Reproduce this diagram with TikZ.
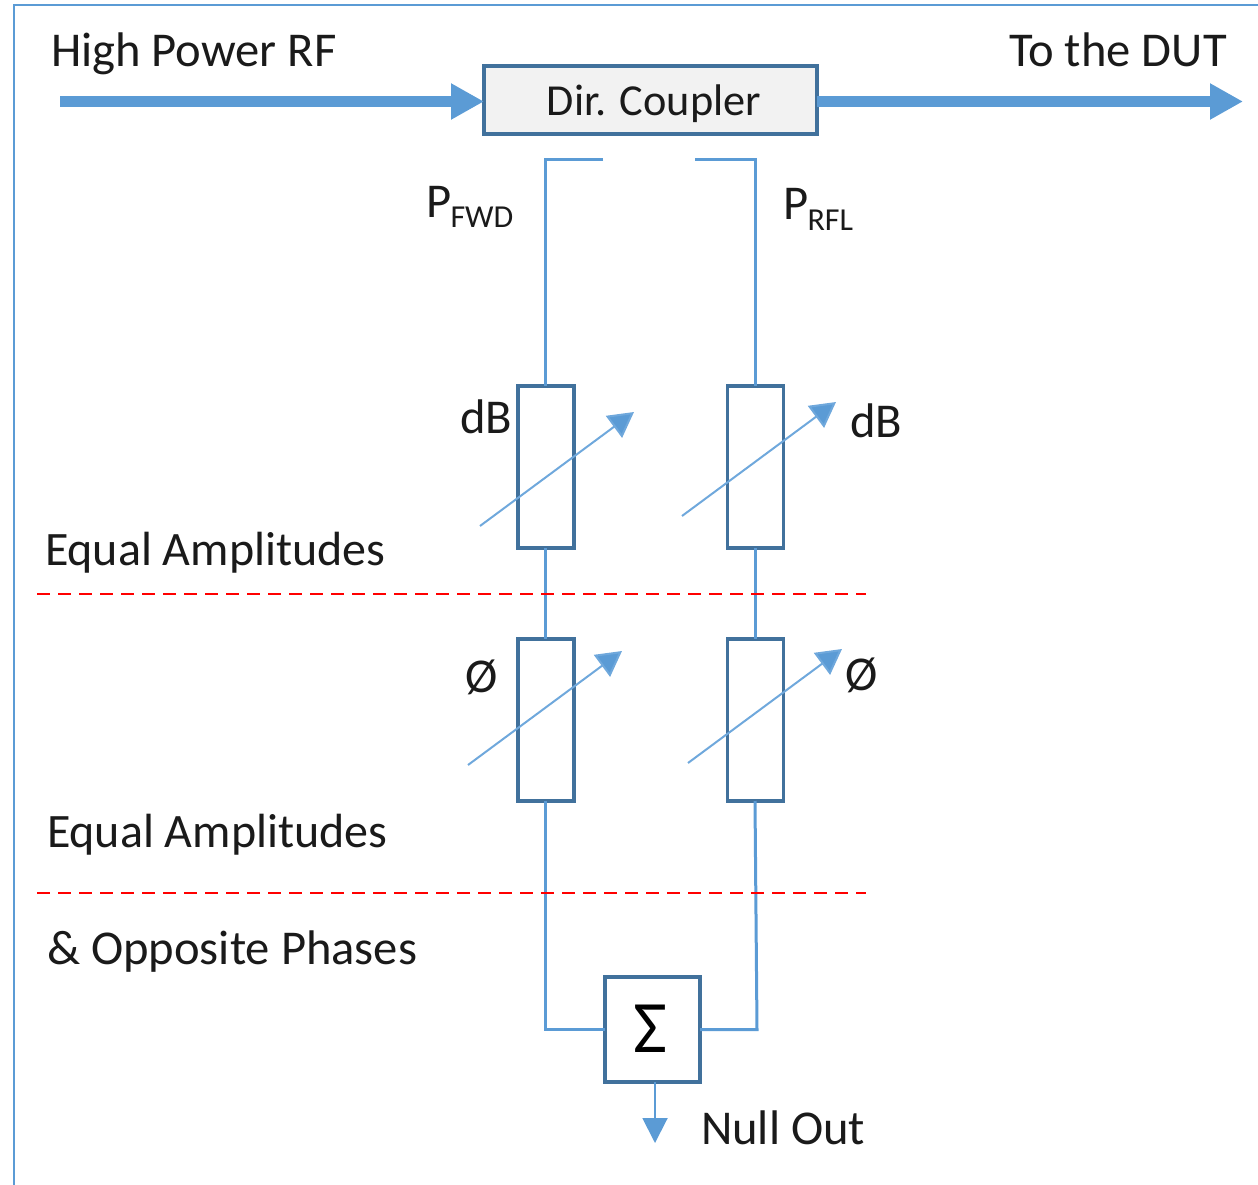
\documentclass[tikz,border=0pt]{standalone}
\usepackage{fontspec}
\setmainfont{Carlito}
\usetikzlibrary{arrows.meta}
\definecolor{wire}{HTML}{5B9BD5}
\definecolor{thinwire}{HTML}{6FA8DC}
\definecolor{edge}{HTML}{41719C}
\definecolor{ink}{HTML}{1A1A1A}
\definecolor{cfill}{HTML}{F2F2F2}
\definecolor{cutred}{HTML}{FF0000}
\tikzset{
  blockbox/.style={draw=edge,line width=3.5pt,rectangle,inner sep=0pt,outer sep=0pt,text=black},
  wireline/.style={draw=wire,line width=3pt,line join=miter},
  bigarrow/.style={draw=wire,line width=11.5pt,-{Triangle[length=33pt,width=34pt,fill=wire]}},
  tune/.style={draw=thinwire,line width=2pt,-{Triangle[length=25pt,width=27pt,fill=wire]}},
  nullarrow/.style={draw=wire,line width=2pt,-{Triangle[length=25pt,width=25pt,fill=wire]}},
  cut/.style={draw=cutred,line width=2pt,dash pattern=on 13pt off 8pt},
  lab/.style={anchor=base west,inner sep=0pt,outer sep=0pt,text=ink,font=\fontsize{48.6}{50}\selectfont},
  eqlab/.style={lab,font=\fontsize{48}{50}\selectfont},
  sublab/.style={anchor=base west,inner sep=0pt,outer sep=0pt,text=ink,font=\fontsize{32}{34}\selectfont},
}
\begin{document}
\begin{tikzpicture}[x=1pt,y=-1pt]
\useasboundingbox (0,0) rectangle (1258,1185);
% outer frame
\coordinate (fb) at (14,1185);
\coordinate (fc) at (14,5);
\coordinate (fr) at (1258,5);
\draw[draw=wire,line width=1.5pt] (fb) -- (fc) -- (fr);
% blocks
\node[blockbox,fill=cfill,minimum width=333pt,minimum height=68pt] (coupler) at (650.5,100) {};
\node[anchor=base,inner sep=0pt,text=ink,font=\fontsize{44.3}{46}\selectfont] (couplertext) at (654,116) {Dir. Coupler};
\node[blockbox,minimum width=56pt,minimum height=162pt] (a1) at (546,467) {};
\node[blockbox,minimum width=56pt,minimum height=162pt] (a2) at (755.5,467) {};
\node[blockbox,minimum width=56pt,minimum height=162pt] (p1) at (546,720) {};
\node[blockbox,minimum width=56pt,minimum height=162pt] (p2) at (755.5,720) {};
\node[blockbox,minimum width=95pt,minimum height=105pt] (sum) at (652.5,1029.5) {};
\node[inner sep=0pt,text=black,font=\fontsize{74}{76}\selectfont] (sigma) at (650,1029) {Σ};
% main line
\coordinate (in) at (60,101.5);
\coordinate (out) at (1243,101.5);
\coordinate (cl) at (coupler.west |- in);
\coordinate (cr) at (coupler.east |- in);
\draw[bigarrow] (in) -- (cl);
\draw[bigarrow] (cr) -- (out);
% wires
\coordinate (tl) at (603,159.5);
\coordinate (tlc) at (545,159.5);
\coordinate (tr) at (695,159.5);
\coordinate (trc) at (755,159.5);
\coordinate (bl) at (545,1029.5);
\coordinate (br) at (757,1029.5);
\draw[wireline] (tl) -- (tlc) -- (a1.north -| tlc);
\draw[wireline] (tr) -- (trc) -- (a2.north -| trc);
\draw[wireline] (a1.south -| tlc) -- (p1.north -| tlc);
\draw[wireline] (a2.south -| trc) -- (p2.north -| trc);
\draw[wireline] (p1.south -| tlc) -- (bl) -- (sum.west |- bl);
\draw[wireline] (p2.south -| trc) -- (br) -- (sum.east |- br);
\coordinate (nulls) at (655,1082);
\coordinate (nulle) at (655,1143);
\draw[nullarrow] (nulls) -- (nulle);
% tuning arrows
\coordinate (t1s) at (480,526); \coordinate (t1e) at (634,412);
\coordinate (t2s) at (682,516); \coordinate (t2e) at (836,402);
\coordinate (t3s) at (468,765); \coordinate (t3e) at (622,651);
\coordinate (t4s) at (688,763); \coordinate (t4e) at (842,649);
\draw[tune] (t1s) -- (t1e);
\draw[tune] (t2s) -- (t2e);
\draw[tune] (t3s) -- (t3e);
\draw[tune] (t4s) -- (t4e);
% dashed levels
\coordinate (c1s) at (37,593.5); \coordinate (c1e) at (866,593.5);
\coordinate (c2s) at (37,892.5); \coordinate (c2e) at (866,892.5);
\draw[cut] (c1s) -- (c1e);
\draw[cut] (c2s) -- (c2e);
% labels
\node[lab] (hp) at (51,67) {High Power RF};
\node[lab] (dut) at (1009,67) {To the DUT};
\node[lab] (pf) at (426,218) {P};
\node[sublab] (pfs) at (450.5,228) {FWD};
\node[lab] (pr) at (783,220) {P};
\node[sublab] (prs) at (807.5,230) {RFL};
\node[lab] (db1) at (460,433) {dB};
\node[lab] (db2) at (850,437) {dB};
\node[lab] (ph1) at (465.5,692) {Ø};
\node[lab] (ph2) at (845.5,690) {Ø};
\node[eqlab] (eq1) at (45,565) {Equal Amplitudes};
\node[eqlab] (eq2) at (47,847) {Equal Amplitudes};
\node[lab] (op) at (47,964) {\& Opposite Phases};
\node[lab] (nul) at (701,1144) {Null Out};
\end{tikzpicture}
\end{document}
